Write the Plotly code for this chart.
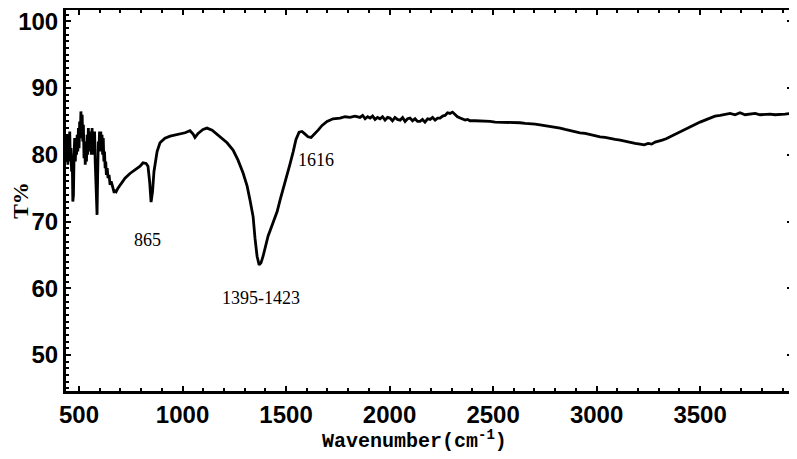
import plotly.graph_objects as go

# Wavenumber (cm^-1) and transmittance (%)
wavenumber = [
    437, 440, 443, 446, 449, 452, 455, 458, 461, 464, 467, 470, 473, 476, 479, 482, 485, 488, 491, 494,
    497, 500, 503, 506, 509, 512, 515, 518, 521, 524, 527, 530, 533, 536, 539, 542, 545, 548, 551, 554,
    557, 560, 563, 566, 569, 572, 575, 578, 581, 584, 587, 590, 593, 596, 599, 602, 605, 608, 611, 614,
    617, 620, 623, 626, 629, 632, 636, 640, 645, 650, 655, 660, 665, 670, 675, 680, 688, 698,
    722, 746, 771, 795, 809, 824, 833, 841, 848, 855, 862, 877, 891, 915, 940, 965, 988, 1012, 1036,
    1051, 1060, 1075, 1099, 1118, 1143, 1181, 1215, 1244, 1268, 1292, 1312, 1326, 1341, 1350, 1360,
    1370, 1379, 1389, 1399, 1413, 1437, 1457, 1471, 1490, 1505, 1519, 1534, 1548, 1563, 1577, 1592,
    1606, 1621, 1635, 1655, 1674, 1698, 1727, 1761, 1785, 1809, 1833, 1857, 1870, 1882, 1894, 1906,
    1918, 1930, 1942, 1954, 1966, 1978, 1990, 2002, 2014, 2026, 2038, 2051, 2063, 2075, 2087, 2099,
    2111, 2123, 2135, 2147, 2159, 2171, 2184, 2196, 2208, 2220, 2232, 2244, 2256, 2268, 2280, 2292,
    2304, 2316, 2328, 2341, 2353, 2365, 2377, 2389, 2413, 2437, 2461, 2486, 2510, 2534, 2558, 2582,
    2606, 2630, 2655, 2679, 2703, 2727, 2751, 2775, 2800, 2824, 2848, 2872, 2896, 2920, 2945, 2969,
    2993, 3017, 3041, 3065, 3090, 3114, 3138, 3162, 3186, 3210, 3230, 3249, 3266, 3283, 3300, 3317,
    3336, 3355, 3379, 3403, 3427, 3452, 3476, 3500, 3524, 3548, 3572, 3597, 3621, 3645, 3669, 3693,
    3717, 3742, 3766, 3790, 3814, 3838, 3862, 3886, 3910, 3944,
]
transmittance = [
    82.0, 79.0, 83.0, 78.5, 82.0, 80.0, 83.5, 79.0, 81.0, 77.5, 80.0, 73.0, 74.0, 80.0, 82.5, 79.0, 82.0, 80.0, 83.0, 80.5,
    84.0, 81.0, 85.0, 82.5, 86.5, 84.0, 86.0, 82.0, 84.5, 79.5, 82.0, 78.5, 81.0, 79.0, 83.0, 80.0, 84.0, 81.0, 83.5, 80.5,
    83.5, 80.0, 84.0, 81.0, 83.0, 80.0, 83.5, 79.0, 76.0, 71.5, 71.0, 77.0, 82.0, 80.5, 83.5, 81.0, 83.5, 80.5, 83.0, 80.0,
    82.5, 79.0, 80.5, 78.0, 79.0, 77.0, 78.0, 76.5, 77.0, 75.5, 76.0, 75.5, 75.0, 74.3, 74.7, 74.5, 75.0, 75.5,
    76.5, 77.2, 77.7, 78.3, 78.8, 78.7, 78.3, 76.0, 72.9, 74.5, 77.5, 80.5, 81.8, 82.5, 82.8, 83.0, 83.1, 83.3, 83.6,
    83.1, 82.6, 83.2, 83.8, 84.0, 83.7, 82.7, 81.8, 80.7, 79.2, 77.3, 75.3, 73.2, 70.7, 67.5, 64.8,
    63.5, 63.8, 64.8, 66.2, 67.8, 69.8, 71.5, 73.2, 75.2, 76.8, 78.6, 80.4, 82.3, 83.4, 83.5, 83.1,
    82.7, 82.6, 83.0, 83.7, 84.4, 85.0, 85.4, 85.5, 85.7, 85.6, 85.8, 85.6, 85.9, 85.4, 85.7, 85.5,
    85.8, 85.3, 85.6, 85.4, 85.7, 85.2, 85.6, 85.5, 85.1, 85.6, 85.3, 85.2, 85.6, 85.0, 85.4, 85.5,
    85.1, 85.4, 85.0, 85.0, 85.3, 84.9, 85.4, 85.3, 85.6, 85.2, 85.5, 85.5, 85.8, 85.9, 86.3, 86.2,
    86.4, 86.0, 85.7, 85.5, 85.3, 85.2, 85.3, 85.1, 85.1, 85.1, 85.0, 85.0, 84.9, 84.9, 84.9, 84.8,
    84.8, 84.8, 84.7, 84.7, 84.6, 84.5, 84.4, 84.2, 84.1, 84.0, 83.8, 83.6, 83.5, 83.3, 83.2, 83.0,
    82.8, 82.7, 82.6, 82.4, 82.3, 82.2, 82.0, 81.8, 81.7, 81.6, 81.5, 81.7, 81.6, 81.9, 82.0, 82.2,
    82.4, 82.7, 83.0, 83.4, 83.8, 84.2, 84.6, 84.9, 85.2, 85.5, 85.8, 85.9, 86.1, 86.2, 86.0, 86.3,
    86.0, 86.1, 86.2, 86.0, 86.1, 86.1, 86.0, 86.1, 86.1, 86.2,
]

peak_positions = [833, 1379, 1645]
peak_values = [67.2, 58.5, 79.2]
peak_labels = ["865", "1395-1423", "1616"]

x_tick_values = [500, 1000, 1500, 2000, 2500, 3000, 3500]
y_tick_values = [50, 60, 70, 80, 90, 100]

fig = go.Figure()
fig.add_trace(go.Scatter(
    x=wavenumber, y=transmittance, mode="lines",
    line=dict(color="black", width=2.8), showlegend=False,
))

for px, py, txt in zip(peak_positions, peak_values, peak_labels):
    fig.add_annotation(x=px, y=py, text=txt, showarrow=False,
                       font=dict(family="Liberation Serif", size=18, color="black"))

# x-axis title, placed as in the reference (slightly left of the plot centre)
fig.add_annotation(
    x=0.48, xref="paper", y=-0.088, yref="paper", yanchor="top", showarrow=False,
    text="Wavenumber(cm<sup>-1</sup>)",
    font=dict(family="Liberation Mono", size=20, color="black", weight="bold"),
)

tick_font = dict(family="Liberation Sans", size=24, color="black", weight="bold")

# The page body adds a small offset, so margins are reduced accordingly
fig.update_layout(
    width=789, height=451,
    margin=dict(l=58, r=5, t=2, b=68),
    paper_bgcolor="white", plot_bgcolor="white",
    xaxis=dict(
        range=[437, 3944], tickvals=x_tick_values, ticks="inside", ticklen=5, tickwidth=2,
        tickcolor="black", showline=True, linecolor="black", linewidth=3, mirror="ticks",
        showgrid=False, zeroline=False, tickfont=tick_font, automargin=False,
        ticklabeloverflow="allow",
        minor=dict(dtick=100, tick0=0, ticks="inside", ticklen=3, tickwidth=1.5, tickcolor="black"),
    ),
    yaxis=dict(
        range=[44.6, 101.7], tickvals=y_tick_values, ticks="inside", ticklen=5, tickwidth=2,
        tickcolor="black", showline=True, linecolor="black", linewidth=3, mirror="ticks",
        showgrid=False, zeroline=False, tickfont=tick_font, automargin=False,
        ticklabeloverflow="allow",
        minor=dict(dtick=1, tick0=0, ticks="inside", ticklen=3, tickwidth=1.5, tickcolor="black"),
        title=dict(text="T%", standoff=0,
                   font=dict(family="Liberation Serif", size=22, color="black", weight="bold")),
    ),
)

fig.write_html("out.html")
